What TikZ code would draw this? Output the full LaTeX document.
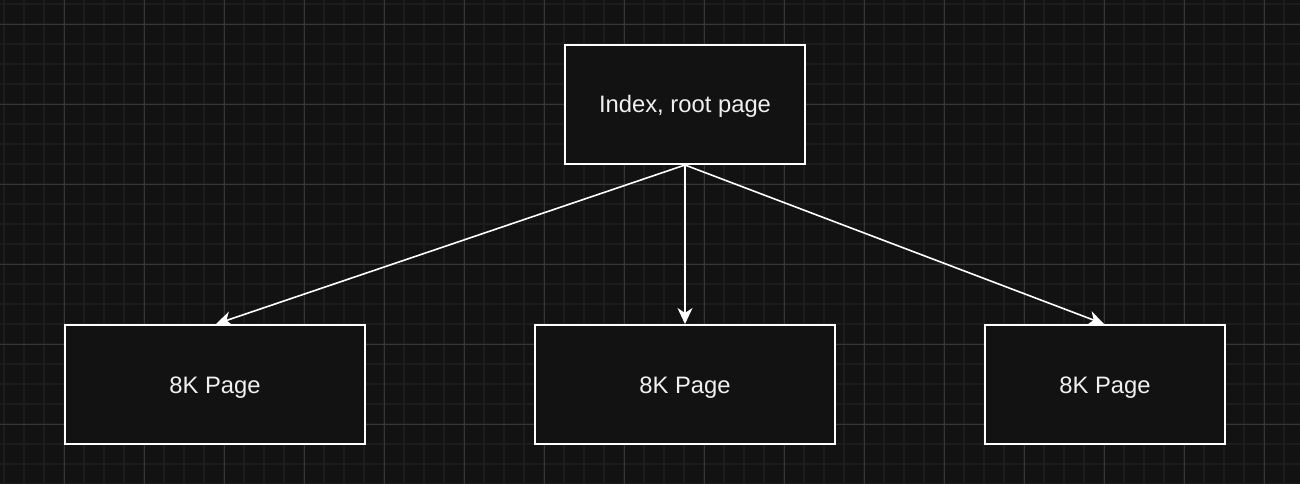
\documentclass[tikz,border=0pt]{standalone}
\usepackage{fontspec}
\setmainfont{Liberation Sans}
\usetikzlibrary{arrows.meta}
\definecolor{canvas}{HTML}{121212}
\definecolor{minorgrid}{HTML}{1C1C1C}
\definecolor{majorgrid}{HTML}{363636}
\definecolor{labeltext}{HTML}{F0F0F0}
\tikzset{
  pagebox/.style={draw=white, line width=2pt, fill=canvas, inner sep=0pt,
    text=labeltext, text height=17pt, text depth=0pt,
    font=\fontsize{23.8pt}{28pt}\selectfont},
  link/.style={draw=white, line width=1.6pt,
    -{Stealth[length=16pt, width=15pt, inset=5pt]}},
}
\begin{document}
\begin{tikzpicture}[x=1pt, y=-1pt]
  % canvas
  \fill[canvas] (0,0) rectangle (1300,484);
  \useasboundingbox (0,0) rectangle (1300,484);
  % background grid
  \foreach \gx in {4,24,...,1300} \draw[minorgrid, line width=1.2pt] (\gx,0) -- (\gx,484);
  \foreach \gy in {4,24,...,484} \draw[minorgrid, line width=1.2pt] (0,\gy) -- (1300,\gy);
  \foreach \gx in {64,144,...,1300} \draw[majorgrid, line width=0.9pt] (\gx,0) -- (\gx,484);
  \foreach \gy in {24,104,...,484} \draw[majorgrid, line width=0.9pt] (0,\gy) -- (1300,\gy);
  % pages
  \node[pagebox, minimum width=240pt, minimum height=119pt] (root) at (685,104.5) {Index, root page};
  \node[pagebox, minimum width=300pt, minimum height=119pt] (left) at (215,384.5) {8K Page};
  \node[pagebox, minimum width=300pt, minimum height=119pt] (mid) at (685,384.5) {8K Page};
  \node[pagebox, minimum width=240pt, minimum height=119pt] (right) at (1105,384.5) {8K Page};
  % links from the root page
  \draw[link] (root.south) -- ([xshift=1pt]left.north);
  \draw[link] (root.south) -- (mid.north);
  \draw[link] (root.south) -- ([xshift=-1pt]right.north);
\end{tikzpicture}
\end{document}
